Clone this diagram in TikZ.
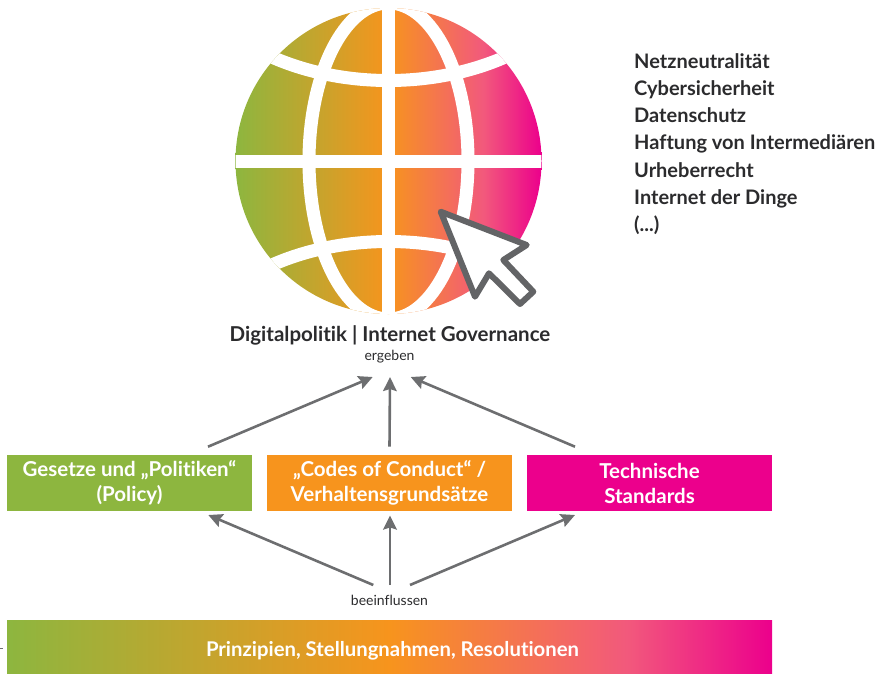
\documentclass[tikz,border=0pt]{standalone}
\usepackage{fontspec}
\setmainfont{Lato}[Ligatures=NoCommon]
\definecolor{cgreen}{HTML}{8DB63F}
\definecolor{corange}{HTML}{F7941D}
\definecolor{csalmon}{HTML}{F2597C}
\definecolor{cmag}{HTML}{EC008C}
\definecolor{cgrey}{HTML}{6D6E70}
\definecolor{ccur}{HTML}{636466}
\definecolor{ctext}{HTML}{2B2B2D}
\usetikzlibrary{arrows.meta}
\pgfdeclarehorizontalshading{rainbowshade}{100bp}{
  color(0bp)=(cgreen);
  color(25bp)=(cgreen);
  color(50bp)=(corange);
  color(65.5bp)=(csalmon);
  color(75bp)=(cmag);
  color(100bp)=(cmag)}
\tikzset{
  boxn/.style={minimum width=245pt,minimum height=56pt,inner sep=0pt,font=\fontsize{20.5}{25}\selectfont\bfseries,text=white,align=center},
  conn/.style={draw=cgrey,line width=2.6pt,-{Stealth[length=14pt,width=13.5pt,inset=2pt]}},
  band/.style={draw=white,line width=13pt},
  side/.style={font=\fontsize{20}{27.25}\selectfont\bfseries,text=ctext,align=left,anchor=north west,inner sep=0pt},
  small/.style={font=\fontsize{14}{16}\selectfont,text=ctext,inner sep=0pt},
  rainbow/.style={shading=rainbowshade},
}
\begin{document}
\begin{tikzpicture}[x=1pt,y=-1pt]
\useasboundingbox (0,0) rectangle (882,673);
% globe
\begin{scope}
\clip (388.5,161) circle (153);
\shade[rainbow] (235.5,8) rectangle (541.5,314);
\draw[band] (388.5,0) -- (388.5,320);
\draw[band] (230,161) -- (547,161);
\draw[band] (388.5,161) ellipse (79.5 and 158);
\draw[band] (250,46) .. controls (330,92) and (447,92) .. (527,46);
\draw[band] (250,276) .. controls (330,230) and (447,230) .. (527,276);
\end{scope}
% cursor
\draw[draw=ccur,fill=white,line width=6pt,line join=round]
  (440.7,211.7) -- (526.7,245) -- (503.3,260) -- (533.3,291.7) -- (520,304) -- (489,273.3) -- (475,296.7) -- cycle;
% texts
\node[side] (list) at (634,53) {Netzneutralität\\Cybersicherheit\\Datenschutz\\Haftung von Intermediären\\Urheberrecht\\Internet der Dinge\\(...)};
\node[font=\fontsize{20.5}{24}\selectfont\bfseries,text=ctext,inner sep=0pt] (title) at (390,335) {Digitalpolitik | Internet Governance};
\node[small] (erg) at (389.5,357) {ergeben};
% boxes
\node[boxn,fill=cgreen] (g) at (129.5,483) {Gesetze und „Politiken“\\(Policy)};
\node[boxn,fill=corange] (o) at (389.5,483) {„Codes of Conduct“ /\\Verhaltensgrundsätze};
\node[boxn,fill=cmag] (m) at (649.5,483) {Technische\\Standards};
\node[small] (bee) at (389.5,600.5) {beeinflussen};
\shade[rainbow] (7,620) rectangle (772,673);
\node[font=\fontsize{20.3}{24}\selectfont\bfseries,text=white,inner sep=0pt] (bar) at (392.5,650.5) {Prinzipien, Stellungnahmen, Resolutionen};
% connectors
\coordinate (e1) at (372.7,377); \coordinate (e2) at (390,377); \coordinate (e3) at (410.7,377);
\coordinate (s1) at (208,446.7); \coordinate (s2) at (389.5,446.7); \coordinate (s3) at (575,446.7);
\draw[conn] (s1) -- (e1);
\draw[conn] (s2) -- (e2);
\draw[conn] (s3) -- (e3);
\coordinate (b1) at (373.3,585); \coordinate (b2) at (390,585); \coordinate (b3) at (410,585);
\coordinate (t1) at (208.3,515); \coordinate (t2) at (390,515.5); \coordinate (t3) at (575,515);
\draw[conn] (b1) -- (t1);
\draw[conn] (b2) -- (t2);
\draw[conn] (b3) -- (t3);
% stray mark at the left edge
\coordinate (ma) at (0,648.3); \coordinate (mb) at (2.6,648.3);
\draw[draw=cgrey,line width=0.8pt] (ma) -- (mb);
\end{tikzpicture}
\end{document}
